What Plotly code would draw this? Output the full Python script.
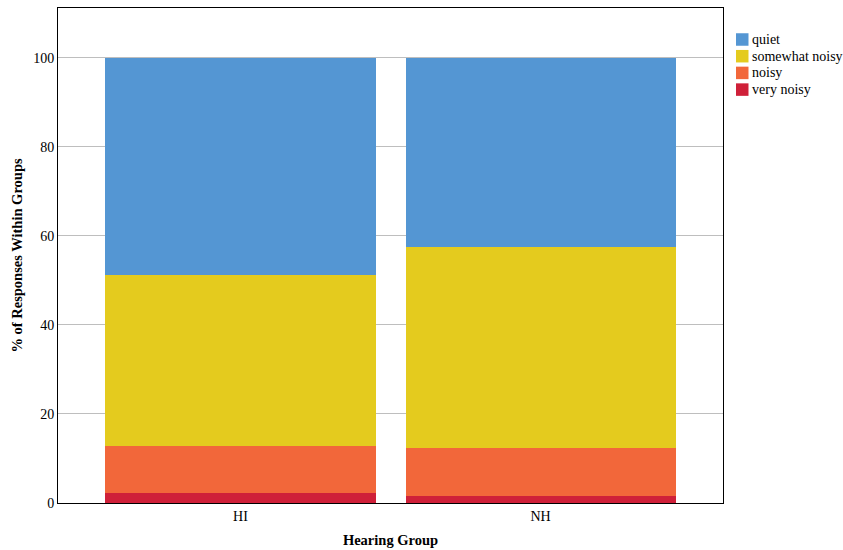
import plotly.graph_objects as go

groups = ["HI", "NH"]
series_names = ["very noisy", "noisy", "somewhat noisy", "quiet"]
very_noisy = [2.3, 1.6]
noisy = [10.6, 10.8]
somewhat_noisy = [38.3, 45.0]
quiet = [48.8, 42.6]
colors = ["rgb(207,32,57)", "rgb(242,103,58)", "rgb(228,203,30)", "rgb(84,150,211)"]
y_ticks = [0, 20, 40, 60, 80, 100]

W, H = 843, 550
ML, MR, MT, MB = 58, 120, 8, 47
PW, PH = W - ML - MR, H - MT - MB

fig = go.Figure()
for name, vals, col in zip(series_names, [very_noisy, noisy, somewhat_noisy, quiet], colors):
    fig.add_trace(go.Bar(x=groups, y=vals, name=name, showlegend=False,
                         marker=dict(color=col, line=dict(width=0))))

font = "Liberation Serif, Times New Roman, serif"

# manual legend (top item = last series), built from series_names / colors
shapes, annots = [], []
sq = 12.5
x0_px = 736
y_first = 39.5
step = 16.7
for i, (name, col) in enumerate(zip(reversed(series_names), reversed(colors))):
    yc = y_first + i * step
    shapes.append(dict(type="rect", xref="paper", yref="paper",
                       x0=(x0_px - ML) / PW, x1=(x0_px + sq - ML) / PW,
                       y0=(H - MB - (yc + sq / 2)) / PH, y1=(H - MB - (yc - sq / 2)) / PH,
                       fillcolor=col, line=dict(width=0)))
    annots.append(dict(text=name, xref="paper", yref="paper", showarrow=False,
                       x=(x0_px + sq + 1 - ML) / PW, y=(H - MB - yc) / PH,
                       xanchor="left", yanchor="middle",
                       font=dict(family=font, size=14, color="black")))

fig.update_layout(
    barmode="stack",
    bargap=0.1,
    width=W, height=H,
    margin=dict(l=ML, r=MR, t=MT, b=MB, autoexpand=False),
    paper_bgcolor="white", plot_bgcolor="white",
    font=dict(family=font, size=14, color="black"),
    showlegend=False,
    shapes=shapes,
    annotations=annots,
)
fig.update_xaxes(range=[-0.608, 1.608], showline=True, linecolor="black", linewidth=1, mirror=True,
                 showgrid=False, ticks="", automargin=False,
                 title=dict(text="<b>Hearing Group</b>", font=dict(size=14.5), standoff=12))
fig.update_yaxes(range=[0, 111.2], tickvals=y_ticks, showline=True, linecolor="black", linewidth=1, mirror=True,
                 showgrid=True, gridcolor="rgb(190,190,190)", gridwidth=1, zeroline=False, ticks="",
                 automargin=False,
                 title=dict(text="<b>% of Responses Within Groups</b>", font=dict(size=14.5), standoff=7))
fig.write_html("out.html", config={"displayModeBar": False},
               post_script="document.body.style.margin='0px';document.body.style.overflow='hidden';")
